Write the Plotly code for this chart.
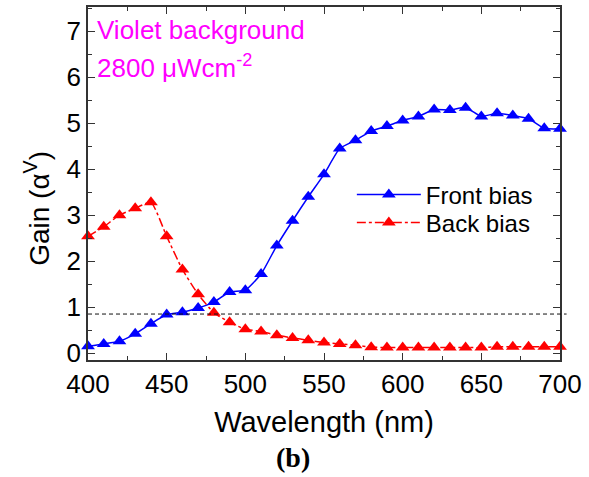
import plotly.graph_objects as go

wavelength = list(range(400, 701, 10))
front_bias = [0.15, 0.20, 0.26, 0.42, 0.64, 0.84, 0.89, 0.98, 1.11, 1.33, 1.37,
              1.72, 2.34, 2.88, 3.40, 3.89, 4.45, 4.63, 4.83, 4.94, 5.06, 5.15,
              5.30, 5.29, 5.34, 5.15, 5.22, 5.17, 5.10, 4.89, 4.88]
back_bias = [2.54, 2.75, 3.00, 3.15, 3.28, 2.54, 1.82, 1.28, 0.88, 0.67, 0.52,
             0.47, 0.39, 0.33, 0.28, 0.23, 0.20, 0.17, 0.13, 0.12, 0.12, 0.12,
             0.12, 0.12, 0.12, 0.12, 0.14, 0.14, 0.14, 0.14, 0.14]
threshold = 0.85
x_ticks = [400, 450, 500, 550, 600, 650, 700]
y_ticks = [0, 1, 2, 3, 4, 5, 6, 7]

SANS = "Liberation Sans, Arial"

fig = go.Figure()
fig.add_trace(go.Scatter(
    x=wavelength, y=front_bias, name="Front bias", mode="lines+markers",
    line=dict(color="#0000FF", width=1.5, shape="spline", smoothing=0.5),
    marker=dict(symbol="triangle-up", size=12, color="#0000FF"),
    cliponaxis=False, legend="legend"))
fig.add_trace(go.Scatter(
    x=wavelength, y=back_bias, name="Back bias", mode="lines+markers",
    line=dict(color="#FF0000", width=1.5, dash="dashdot", shape="spline", smoothing=0.5),
    marker=dict(symbol="triangle-up", size=12, color="#FF0000"),
    cliponaxis=False, legend="legend2"))

fig.add_shape(type="line", xref="paper", yref="y", x0=0, x1=1.014,
              y0=threshold, y1=threshold,
              line=dict(color="#111111", width=1, dash="4px,3px"))

axis_common = dict(
    showline=True, linecolor="#333333", linewidth=1.5, mirror="ticks",
    ticks="inside", ticklen=7, tickwidth=1.2, tickcolor="#333333",
    showgrid=False, zeroline=False,
    tickfont=dict(family=SANS, size=26, color="black"),
)

fig.update_xaxes(
    range=[400, 700], tickvals=x_ticks,
    minor=dict(dtick=25, ticks="inside", ticklen=4, tickcolor="#333333", showgrid=False),
    title=dict(text="Wavelength (nm)", font=dict(family=SANS, size=29, color="black"), standoff=14),
    **axis_common)
fig.update_yaxes(
    range=[-0.15, 7.53], tickvals=y_ticks,
    minor=dict(dtick=0.5, ticks="inside", ticklen=4, tickcolor="#333333", showgrid=False),
    **axis_common)

fig.add_annotation(xref="paper", yref="paper", x=(37 - 88) / 472, y=(360 - 208) / 355,
                   xanchor="center", yanchor="middle", showarrow=False, textangle=-90,
                   text="Gain (α<sup>V</sup>)",
                   font=dict(family=SANS, size=28, color="black"))
fig.add_annotation(xref="paper", yref="paper", x=0.015, y=(360 - 28) / 355,
                   xanchor="left", yanchor="middle", showarrow=False,
                   text="Violet background",
                   font=dict(family=SANS, size=26, color="#FF00FF"))
fig.add_annotation(xref="paper", yref="paper", x=0.015, y=(360 - 65) / 355,
                   xanchor="left", yanchor="middle", showarrow=False,
                   text="2800 μWcm<sup>-2</sup>",
                   font=dict(family=SANS, size=26, color="#FF00FF"))
fig.add_annotation(xref="paper", yref="paper", x=(293 - 88) / 472, y=(360 - 458) / 355,
                   xanchor="center", yanchor="middle", showarrow=False,
                   text="<b>(b)</b>",
                   font=dict(family="Liberation Serif, Times New Roman", size=28, color="black"))

legend_common = dict(xanchor="left", yanchor="middle", bgcolor="rgba(0,0,0,0)",
                     itemwidth=64, borderwidth=0,
                     font=dict(family=SANS, size=24, color="black"))
fig.update_layout(
    width=589, height=477,
    margin=dict(l=88, r=29, t=5, b=117),
    plot_bgcolor="white", paper_bgcolor="white",
    showlegend=True,
    legend=dict(x=0.559, y=(360 - 194) / 355, **legend_common),
    legend2=dict(x=0.559, y=(360 - 222) / 355, **legend_common),
)

fig.write_html("out.html", config={"displayModeBar": False},
               post_script="document.body.style.margin='0px';")
